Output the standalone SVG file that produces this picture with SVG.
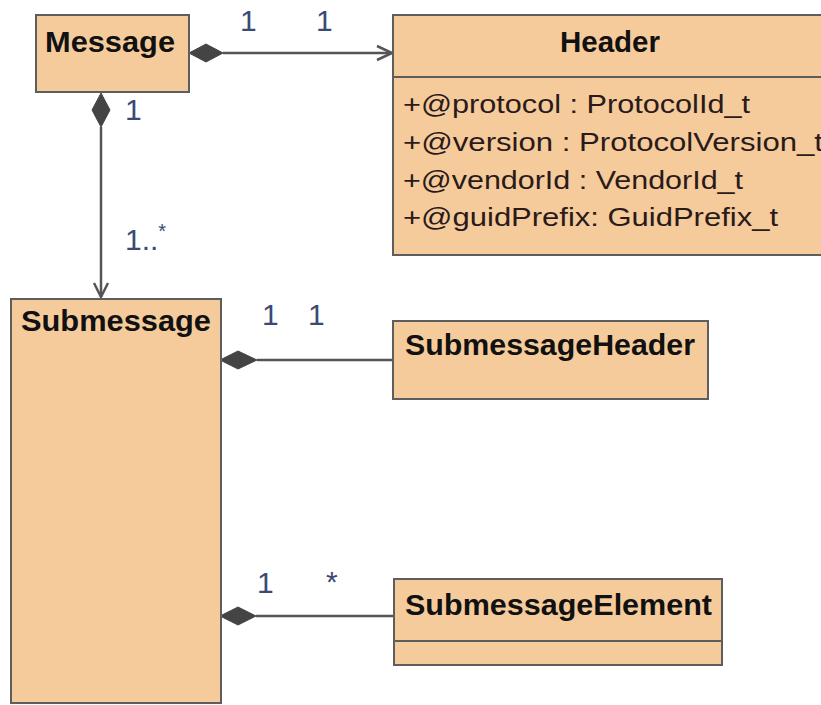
<svg xmlns="http://www.w3.org/2000/svg" width="821" height="705" viewBox="0 0 821 705">
<defs>
<style>
.box{fill:#f5cb9b;stroke:#5e5e5e;stroke-width:2}
.div{stroke:#5e5e5e;stroke-width:2}
.name{font-family:"Liberation Sans",Arial,sans-serif;font-weight:bold;font-size:30px;fill:#111}
.attr{font-family:"Liberation Sans",Arial,sans-serif;font-size:25px;fill:#2a1a1a}
.mult{font-family:"Liberation Sans",Arial,sans-serif;font-size:30px;fill:#3b4a75}
.conn{stroke:#555;stroke-width:2.5;fill:none}
.dia{fill:#444;stroke:#444;stroke-width:1}
</style>
</defs>
<rect width="821" height="705" fill="#fff"/>
<g id="connectors">
<line class="conn" x1="223" y1="53" x2="392" y2="53"/>
<polyline class="conn" points="377,46 392,53 377,60"/>
<polygon class="dia" points="189,53 206,44 223,53 206,62"/>
<text class="mult" x="240" y="31">1</text>
<text class="mult" x="316" y="31">1</text>
<line class="conn" x1="101" y1="127" x2="101" y2="297"/>
<polyline class="conn" points="94,283 101,297 108,283"/>
<polygon class="dia" points="101,93 110,110 101,127 92,110"/>
<text class="mult" x="125" y="120">1</text>
<text class="mult" x="125" y="250">1..<tspan font-size="20" dy="-12">*</tspan></text>
<line class="conn" x1="257" y1="360" x2="393" y2="360"/>
<polygon class="dia" points="220,360 238,351 257,360 238,369"/>
<text class="mult" x="262" y="325">1</text>
<text class="mult" x="308" y="325">1</text>
<line class="conn" x1="256" y1="616" x2="393" y2="616"/>
<polygon class="dia" points="220,616 238,607 256,616 238,625"/>
<text class="mult" x="257" y="593">1</text>
<text class="mult" x="326" y="592" font-size="20">*</text>
</g>
<g id="node-message">
<rect class="box" x="36" y="15" width="153" height="77"/>
<text class="name" x="45" y="52" textLength="130" lengthAdjust="spacingAndGlyphs">Message</text>
</g>
<g id="node-header">
<rect class="box" x="393" y="15" width="440" height="240"/>
<line class="div" x1="393" y1="77" x2="833" y2="77"/>
<text class="name" x="560" y="52" font-size="29" textLength="100" lengthAdjust="spacingAndGlyphs">Header</text>
<text class="attr" x="403" y="113" textLength="347" lengthAdjust="spacingAndGlyphs">+@protocol : ProtocolId_t</text>
<text class="attr" x="403" y="151" textLength="420" lengthAdjust="spacingAndGlyphs">+@version : ProtocolVersion_t</text>
<text class="attr" x="403" y="189" textLength="340" lengthAdjust="spacingAndGlyphs">+@vendorId : VendorId_t</text>
<text class="attr" x="403" y="226" textLength="375" lengthAdjust="spacingAndGlyphs">+@guidPrefix: GuidPrefix_t</text>
</g>
<g id="node-submessage">
<rect class="box" x="11" y="299" width="210" height="404"/>
<text class="name" x="21" y="331" textLength="190" lengthAdjust="spacingAndGlyphs">Submessage</text>
</g>
<g id="node-submessageheader">
<rect class="box" x="393" y="321" width="315" height="78"/>
<text class="name" x="405" y="355" textLength="290" lengthAdjust="spacingAndGlyphs">SubmessageHeader</text>
</g>
<g id="node-submessageelement">
<rect class="box" x="394" y="579" width="328" height="86"/>
<line class="div" x1="394" y1="641" x2="722" y2="641"/>
<text class="name" x="405" y="615" textLength="307" lengthAdjust="spacingAndGlyphs">SubmessageElement</text>
</g>
</svg>
